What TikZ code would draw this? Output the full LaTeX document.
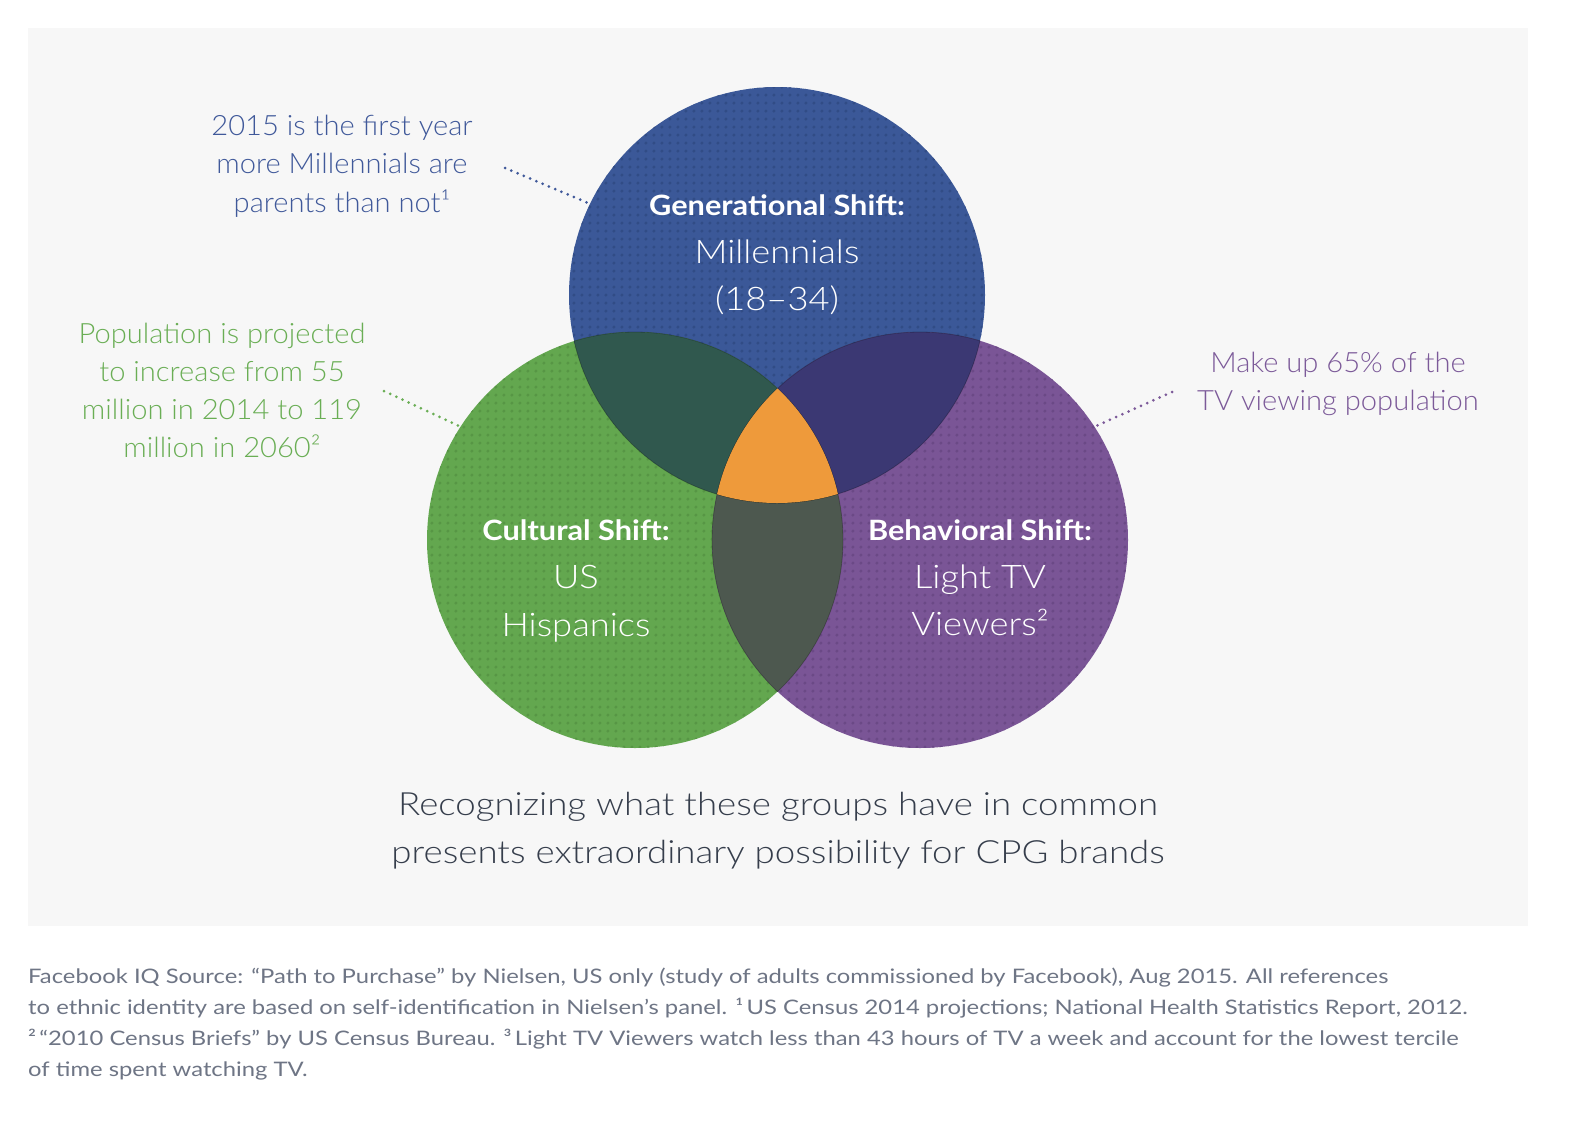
\documentclass[tikz,border=0pt]{standalone}
\usepackage{fontspec}
\setmainfont{Lato}[UprightFont=* Light, BoldFont=* Bold]
\newfontfamily\annotfont{Lato Light}[FakeStretch=1.04]
\newfontfamily\headfont{Lato Bold}[FakeStretch=1.097]
\newfontfamily\bigfont{Lato Light}[FakeStretch=1.117]
\newfontfamily\bottomfont{Lato Light}[FakeStretch=1.146]
\newfontfamily\footfont{Lato}[FakeStretch=1.19]
\usetikzlibrary{patterns.meta}
\definecolor{panelbg}{HTML}{F7F7F7}
\definecolor{fbblue}{HTML}{3B5898}
\definecolor{fbbluedot}{HTML}{314C86}
\definecolor{fbgreen}{HTML}{63A74F}
\definecolor{fbgreendot}{HTML}{579645}
\definecolor{fbpurple}{HTML}{7A5596}
\definecolor{fbpurpledot}{HTML}{6B4986}
\definecolor{bgover}{HTML}{30584E}
\definecolor{bpover}{HTML}{3B3873}
\definecolor{gpover}{HTML}{4D584F}
\definecolor{orangecore}{HTML}{EE9A3B}
\definecolor{bluetext}{HTML}{40599A}
\definecolor{greentext}{HTML}{6AAE55}
\definecolor{purpletext}{HTML}{7C5A99}
\definecolor{darktext}{HTML}{363E4C}
\definecolor{foottext}{HTML}{6E7585}
\tikzdeclarepattern{
  name=fbdots, type=uncolored,
  bounding box={(0pt,0pt) and (8.4pt,8.4pt)},
  tile size={(8.4pt,8.4pt)},
  code={\fill (4.2pt,4.2pt) circle [radius=1.8pt];}
}
\begin{document}
\begin{tikzpicture}[x=1pt,y=-1pt,
  venn/.style={circle, minimum size=416pt, inner sep=0pt, outer sep=0pt},
  leader/.style={line width=3pt, line cap=round, dash pattern=on 0pt off 6.8pt},
  annot/.style={anchor=base, inner sep=0pt, font=\annotfont\fontsize{28}{32}\selectfont},
  headlbl/.style={anchor=base, inner sep=0pt, text=white, font=\headfont\fontsize{28}{32}\selectfont},
  biglbl/.style={anchor=base, inner sep=0pt, text=white, font=\bigfont\fontsize{32.5}{40}\selectfont},
  bottomtxt/.style={anchor=base, inner sep=0pt, text=darktext, font=\bottomfont\fontsize{32}{40}\selectfont},
  foot/.style={anchor=base west, inner sep=0pt, text=foottext, font=\footfont\fontsize{20}{24}\selectfont},
  edge/.style={draw=black, draw opacity=0.25, line width=0.8pt}
]
\useasboundingbox (0,0) rectangle (1592,1120);
\fill[white] (0,0) rectangle (1592,1120);
\fill[panelbg] (28,28) rectangle (1528,926);

% circles
\node[venn, fill=fbblue] (B) at (777,295) {};
\node[venn, fill=fbgreen] (G) at (635,540) {};
\node[venn, fill=fbpurple] (P) at (920,540) {};
\fill[pattern=fbdots, pattern color=fbbluedot] (B.center) circle [radius=208pt];
\fill[pattern=fbdots, pattern color=fbgreendot] (G.center) circle [radius=208pt];
\fill[pattern=fbdots, pattern color=fbpurpledot] (P.center) circle [radius=208pt];

% pairwise overlaps
\begin{scope}
  \clip (B.center) circle [radius=208pt];
  \fill[bgover] (G.center) circle [radius=208pt];
  \fill[bpover] (P.center) circle [radius=208pt];
  \draw[edge] (G.center) circle [radius=208pt];
  \draw[edge] (P.center) circle [radius=208pt];
\end{scope}
\begin{scope}
  \clip (G.center) circle [radius=208pt];
  \fill[gpover] (P.center) circle [radius=208pt];
  \draw[edge] (P.center) circle [radius=208pt];
  \draw[edge] (B.center) circle [radius=208pt];
\end{scope}
\begin{scope}
  \clip (P.center) circle [radius=208pt];
  \draw[edge] (G.center) circle [radius=208pt];
  \draw[edge] (B.center) circle [radius=208pt];
\end{scope}
% triple overlap
\begin{scope}
  \clip (B.center) circle [radius=208pt];
  \clip (G.center) circle [radius=208pt];
  \fill[orangecore] (P.center) circle [radius=208pt];
\end{scope}

% circle labels
\node[headlbl] (bh) at (777,215) {Generational Shift:};
\node[biglbl] (bm1) at (777,263) {Millennials};
\node[biglbl] (bm2) at (777,310) {(18–34)};
\node[headlbl] (gh) at (576,540) {Cultural Shift:};
\node[biglbl] (gm1) at (576,588) {US};
\node[biglbl] (gm2) at (576,636) {Hispanics};
\node[headlbl] (ph) at (980,540) {Behavioral Shift:};
\node[biglbl] (pm1) at (980,588) {Light TV};
\node[biglbl] (pm2) at (980,635) {Viewers²};

% annotations
\node[annot, text=bluetext] (ba1) at (342,135) {2015 is the first year};
\node[annot, text=bluetext] (ba2) at (342,173.5) {more Millennials are};
\node[annot, text=bluetext] (ba3) at (342,212) {parents than not¹};
\node[annot, text=greentext] (ga1) at (222,343) {Population is projected};
\node[annot, text=greentext] (ga2) at (222,381) {to increase from 55};
\node[annot, text=greentext] (ga3) at (222,419) {million in 2014 to 119};
\node[annot, text=greentext] (ga4) at (222,457) {million in 2060²};
\node[annot, text=purpletext] (pa1) at (1338,372) {Make up 65\% of the};
\node[annot, text=purpletext] (pa2) at (1338,410) {TV viewing population};

% leaders
\coordinate (bls) at (505,168);
\coordinate (gls) at (384,391);
\coordinate (pls) at (1172,392);
\draw[leader, bluetext] (bls) -- (B.154);
\draw[leader, greentext] (gls) -- (G.147);
\draw[leader, purpletext] (pls) -- (P.33);

% bottom statement
\node[bottomtxt] (st1) at (778,815) {Recognizing what these groups have in common};
\node[bottomtxt] (st2) at (778,863) {presents extraordinary possibility for CPG brands};

% footnote
\node[foot] (f1) at (28,983) {Facebook IQ Source: “Path to Purchase” by Nielsen, US only (study of adults commissioned by Facebook), Aug 2015. All references};
\node[foot] (f2) at (28,1014) {to ethnic identity are based on self-identification in Nielsen’s panel. ¹\,US Census 2014 projections; National Health Statistics Report, 2012.};
\node[foot] (f3) at (28,1045) {²\,“2010 Census Briefs” by US Census Bureau. ³\,Light TV Viewers watch less than 43 hours of TV a week and account for the lowest tercile};
\node[foot] (f4) at (28,1076) {of time spent watching TV.};
\end{tikzpicture}
\end{document}
